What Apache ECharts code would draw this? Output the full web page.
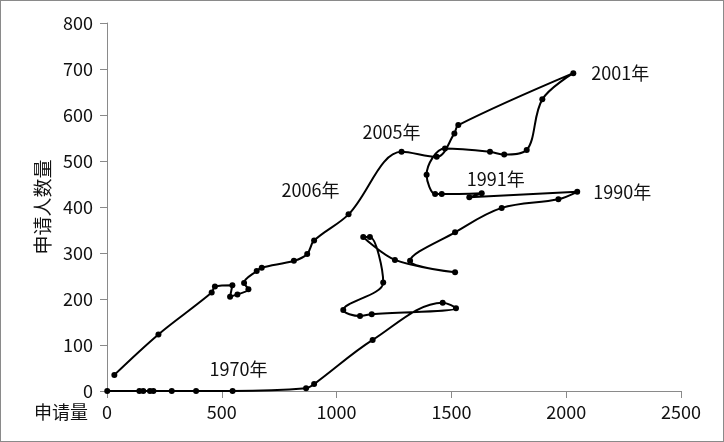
<!DOCTYPE html>
<html>
<head>
<meta charset="utf-8">
<script src="https://cdn.jsdelivr.net/npm/echarts@6/dist/echarts.min.js"></script>
<style>
html,body{margin:0;padding:0;background:#fff;}
#frame{position:absolute;left:0;top:0;width:724px;height:442px;box-sizing:border-box;border:1px solid #8a8a8a;}
#chart{position:absolute;left:0;top:0;width:724px;height:442px;}
</style>
</head>
<body>
<div id="chart"></div>
<div id="frame"></div>
<script>
// ---- data (in path order) ----
const applications = [1,141,158,187,202,282,388,547,867,902,1157,1462,1520,1153,1102,1029,1203,1145,1116,1254,1516,1320,1516,1719,1966,2048,1578,1632,1458,1429,1392,1472,1668,1730,1828,1896,2031,1530,1513,1436,1283,1052,902,872,814,674,652,597,616,568,536,546,470,456,224,32];
const applicants   = [0,0,0,0,0,0,0,0,6,15,111,192,180,167,163,176,236,335,335,285,258,283,345,398,417,433,421,430,428,428,470,527,520,514,524,634,691,578,560,509,520,384,327,298,283,268,261,235,221,210,205,230,227,214,123,35];
const yearLabelIndex = [7, 25, 27, 36, 40, 41];
const yearLabelText  = ['1970年','1990年','1991年','2001年','2005年','2006年'];
const xTicks = [0, 500, 1000, 1500, 2000, 2500];
const yTicks = [0, 100, 200, 300, 400, 500, 600, 700, 800];
const xAxisName = '申请量';
const yAxisName = '申请人数量';

// ---- label placement styles ----
const labelStyles = {
  '1970年': {position: 'top', distance: 10, offset: [6, 0]},
  '1990年': {position: 'right', distance: 13},
  '1991年': {position: 'inside', offset: [14, -14]},
  '2001年': {position: 'right', distance: 15},
  '2005年': {position: 'inside', offset: [-10, -20]},
  '2006年': {position: 'inside', offset: [-38, -24]}
};

const FONT = '"Noto Sans CJK SC", "Microsoft YaHei", sans-serif';
const data = applications.map((x, i) => {
  const item = {value: [x, applicants[i]]};
  const k = yearLabelIndex.indexOf(i);
  if (k >= 0) {
    const t = yearLabelText[k];
    item.label = Object.assign({show: true, formatter: t, color: '#111', fontSize: 18, fontFamily: FONT}, labelStyles[t]);
  }
  return item;
});

const chart = echarts.init(document.getElementById('chart'), null, {renderer: 'canvas'});
chart.setOption({
  animation: false,
  backgroundColor: '#fff',
  grid: {left: 107, right: 43, top: 23, bottom: 51, containLabel: false},
  xAxis: {
    type: 'value',
    min: xTicks[0], max: xTicks[xTicks.length - 1], interval: xTicks[1] - xTicks[0],
    name: xAxisName, nameLocation: 'start', nameGap: 19,
    nameTextStyle: {fontSize: 18, color: '#111', fontFamily: FONT, verticalAlign: 'top', padding: [12, 0, 0, 0]},
    axisLine: {show: true, lineStyle: {color: '#8a8a8a', width: 1}},
    axisTick: {show: true, length: 7, lineStyle: {color: '#8a8a8a'}},
    axisLabel: {fontSize: 18, color: '#111', fontFamily: FONT, margin: 12, formatter: v => String(v)},
    splitLine: {show: false}
  },
  yAxis: {
    type: 'value',
    min: yTicks[0], max: yTicks[yTicks.length - 1], interval: yTicks[1] - yTicks[0],
    name: yAxisName, nameLocation: 'middle', nameGap: 50, nameRotate: 90,
    nameTextStyle: {fontSize: 19, color: '#111', fontFamily: FONT},
    axisLine: {show: true, lineStyle: {color: '#8a8a8a', width: 1}},
    axisTick: {show: true, length: 7, lineStyle: {color: '#8a8a8a'}},
    axisLabel: {fontSize: 18, color: '#111', fontFamily: FONT, margin: 14, formatter: v => String(v)},
    splitLine: {show: false}
  },
  series: [{
    type: 'line',
    data: data,
    smooth: 0.35,
    symbol: 'circle',
    symbolSize: 6,
    showAllSymbol: true,
    lineStyle: {color: '#000', width: 2},
    itemStyle: {color: '#000'},
    label: {show: false}
  }]
});
</script>
</body>
</html>
